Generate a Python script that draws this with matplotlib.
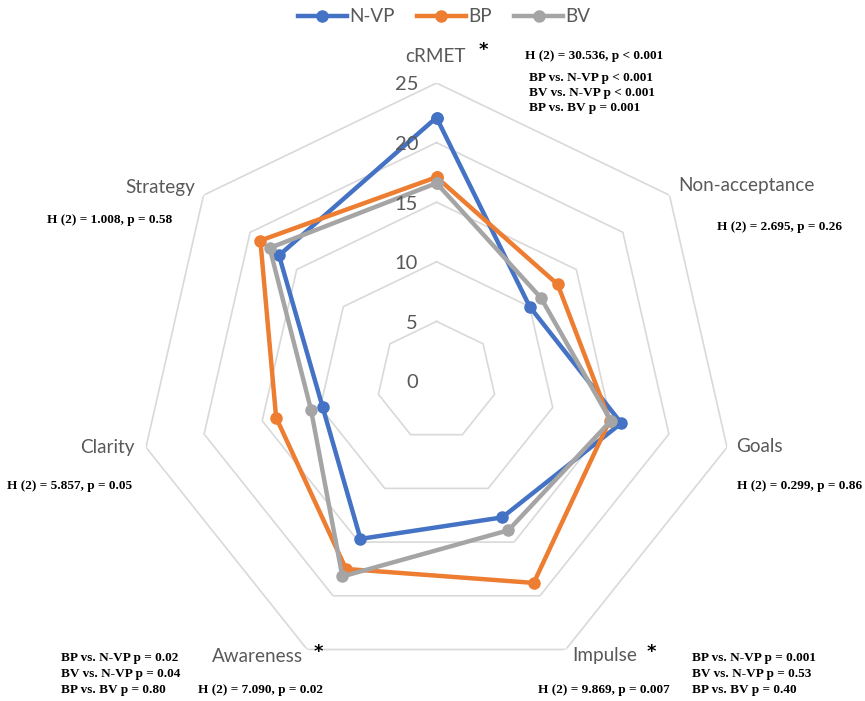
import numpy as np
import matplotlib
matplotlib.use('Agg')
import matplotlib.pyplot as plt

# radar data
categories = ['cRMET', 'Non-acceptance', 'Goals', 'Impulse', 'Awareness', 'Clarity', 'Strategy']
nvp = [22.1, 10.0, 15.9, 12.7, 14.7, 9.8, 16.9]
bp = [17.1, 13.0, 14.9, 18.8, 17.5, 13.8, 18.9]
bv = [16.6, 11.2, 15.0, 13.9, 18.2, 10.8, 17.9]
series_names = ['N-VP', 'BP', 'BV']
series_colors = ['#4472C4', '#ED7D31', '#A5A5A5']
ticks = [0, 5, 10, 15, 20, 25]

W, H = 865, 701
fig = plt.figure(figsize=(W / 100, H / 100), dpi=100)

cx, cy, R = 436.5, 381, 298
ax = fig.add_axes([(cx - R) / W, (H - cy - R) / H, 2 * R / W, 2 * R / H], projection='polar')
ax.set_theta_offset(np.pi / 2)
ax.set_theta_direction(-1)
ax.set_ylim(0, 25)
ax.grid(False)
ax.spines['polar'].set_visible(False)
ax.set_xticks([])
ax.set_yticks([])
ax.patch.set_alpha(0)

n = len(categories)
angles = np.linspace(0, 2 * np.pi, n, endpoint=False)
closed = np.append(angles, angles[0])

# heptagon grid
for t in ticks[1:]:
    ax.plot(closed, [t] * (n + 1), color='#D9D9D9', lw=1.2, zorder=1)

for name, vals, col in zip(series_names, [nvp, bp, bv], series_colors):
    v = np.append(vals, vals[0])
    ax.plot(closed, v, color=col, lw=3.2, marker='o', ms=8, label=name, zorder=3)

# radial tick labels, to the left of the vertical axis
for t in ticks:
    y = cy - t * R / 25
    fig.text(418 / W, 1 - (y + 2) / H, str(t), ha='right', va='center',
             fontsize=14.5, color='#595959', family='Lato')


def ftxt(x, y, s, **kw):
    fig.text(x / W, 1 - y / H, s, **kw)


lab = dict(fontsize=13.6, color='#595959', family='Lato', va='center')
ftxt(435, 57, 'cRMET', ha='center', **lab)
ftxt(746, 186, 'Non-acceptance', ha='center', **lab)
ftxt(736, 447, 'Goals', ha='left', **lab)
ftxt(637, 656, 'Impulse', ha='right', **lab)
ftxt(303, 656, 'Awareness', ha='right', **lab)
ftxt(135, 447, 'Clarity', ha='right', **lab)
ftxt(195, 187, 'Strategy', ha='right', **lab)

star = dict(fontsize=13, color='black', ha='center', va='center', fontweight='bold')
ftxt(483, 50, '*', **star)
ftxt(651, 652, '*', **star)
ftxt(318, 652, '*', **star)

st = dict(fontsize=9.5, color='black', family='Liberation Serif', fontweight='bold', va='center')
ftxt(525, 56, 'H (2) = 30.536, p < 0.001', ha='left', **st)
ftxt(529, 77.5, 'BP vs. N-VP p < 0.001', ha='left', **st)
ftxt(529, 93, 'BV vs. N-VP p < 0.001', ha='left', **st)
ftxt(529, 108.5, 'BP vs. BV p = 0.001', ha='left', **st)
ftxt(717, 227, 'H (2) = 2.695, p = 0.26', ha='left', **st)
ftxt(862, 486, 'H (2) = 0.299, p = 0.86', ha='right', **st)
ftxt(538, 689.5, 'H (2) = 9.869, p = 0.007', ha='left', **st)
ftxt(692, 658, 'BP vs. N-VP p = 0.001', ha='left', **st)
ftxt(692, 674, 'BV vs. N-VP p = 0.53', ha='left', **st)
ftxt(692, 689.5, 'BP vs. BV p = 0.40', ha='left', **st)
ftxt(198, 689.5, 'H (2) = 7.090, p = 0.02', ha='left', **st)
ftxt(61, 658, 'BP vs. N-VP p = 0.02', ha='left', **st)
ftxt(61, 674, 'BV vs. N-VP p = 0.04', ha='left', **st)
ftxt(61, 689.5, 'BP vs. BV p = 0.80', ha='left', **st)
ftxt(7, 486, 'H (2) = 5.857, p = 0.05', ha='left', **st)
ftxt(47, 219.5, 'H (2) = 1.008, p = 0.58', ha='left', **st)

leg = fig.legend(loc='center', bbox_to_anchor=(444 / W, 1 - 17 / H), ncol=3, frameon=False,
                 handlelength=2.6, handletextpad=0.1, columnspacing=1.2,
                 prop={'family': 'Lato', 'size': 13.6})
for t in leg.get_texts():
    t.set_color('#595959')

fig.savefig('out.png', dpi=100, facecolor='white')
